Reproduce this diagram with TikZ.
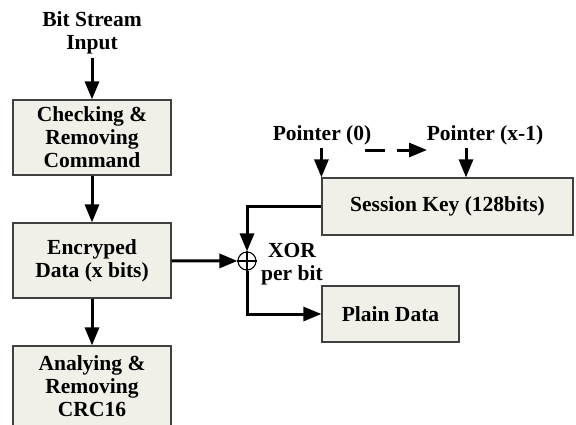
\documentclass[tikz,border=0pt]{standalone}
\usepackage{fontspec}
\setmainfont{Liberation Serif}
\usetikzlibrary{arrows.meta}
\definecolor{boxfill}{RGB}{240,240,232}
\tikzset{
  blk/.style={draw=black!75, line width=1.2pt, fill=boxfill, align=center, inner sep=0pt},
  lbl/.style={align=center, inner sep=0pt},
  arr/.style={line width=3pt, -{Triangle[length=18pt,width=14pt]}},
}
\begin{document}
\begin{tikzpicture}[x=1pt, y=-1pt, font=\fontsize{21.5}{23}\selectfont\bfseries]
\useasboundingbox (0,0) rectangle (576,424);
\clip (0,0) rectangle (576,424);
% left column
\node[lbl] (title) at (92,33) {Bit Stream\\Input};
\node[blk, minimum width=158pt, minimum height=75pt] (chk) at (92,137.5) {Checking \&\\Removing\\Command};
\node[blk, minimum width=158pt, minimum height=75pt] (enc) at (92,260.5) {Encryped\\Data (x bits)};
\node[blk, minimum width=158pt, minimum height=80pt] (crc) at (92,386) {Analying \&\\Removing\\CRC16};
% right side
\node[lbl] (p0) at (322,135) {Pointer (0)};
\node[lbl] (p1) at (485,135) {Pointer (x-1)};
\node[blk, minimum width=251pt, minimum height=57pt] (key) at (447.5,206.5) {Session Key (128bits)};
\node[blk, minimum width=137pt, minimum height=56pt] (plain) at (390.5,314) {Plain Data};
\node[circle, draw, line width=1.1pt, minimum size=18pt, inner sep=0pt] (xor) at (247,261) {};
\draw[line width=1.1pt] (xor.north) -- (xor.south) (xor.west) -- (xor.east);
\node[lbl, anchor=west] (xorlbl) at (261,264) {XOR\\per bit};
\coordinate (d0) at (365,150);
\coordinate (d1) at (427,150);
% connectors
\draw[arr, shorten <=4pt] (title) -- (chk);
\draw[arr] (chk) -- (enc);
\draw[arr] (enc) -- (xor);
\draw[arr] (enc) -- (crc);
\draw[arr] (key.west) -| (xor);
\draw[arr] (xor) |- (plain);
\draw[arr, shorten <=3pt] (p0.south -| key.west) -- (key.north west);
\draw[arr, shorten <=3pt] ([xshift=-19pt]p1.south) -- ([xshift=-19pt]p1.south |- key.north);
\draw[arr, dash pattern=on 20pt off 12pt] (d0) -- (d1);
\end{tikzpicture}
\end{document}
